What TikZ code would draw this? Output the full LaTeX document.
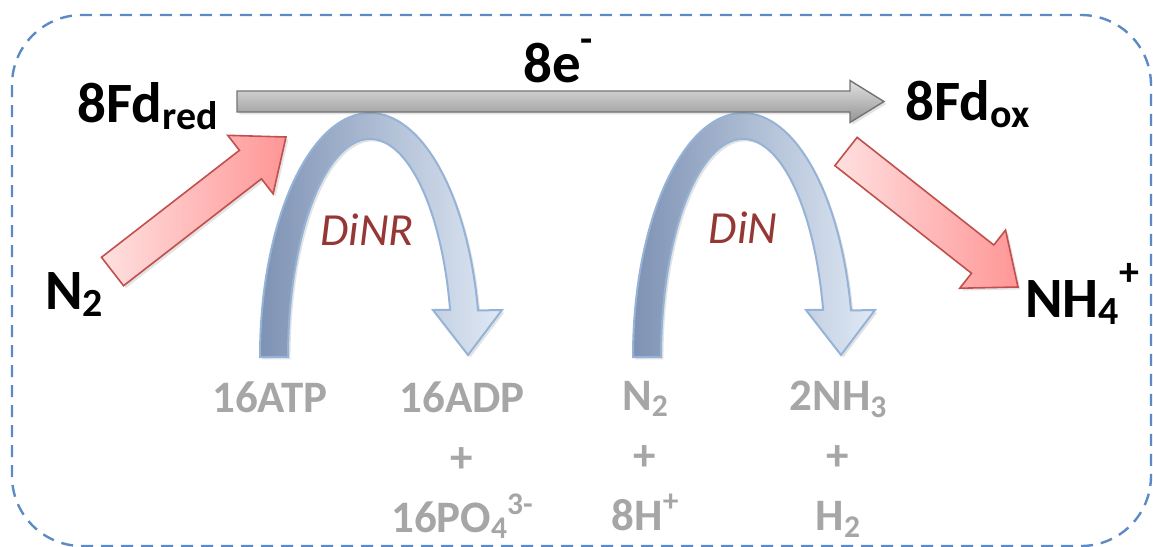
\documentclass[tikz,border=0pt]{standalone}
\usepackage{fontspec}
\setmainfont{Carlito}
\usepackage{graphicx}
\usetikzlibrary{calc,shadows}

\definecolor{boxblue}{RGB}{91,138,198}
\definecolor{arcdark}{RGB}{126,146,180}
\definecolor{arclight}{RGB}{224,233,245}
\definecolor{arcedge}{RGB}{149,179,215}
\definecolor{redlight}{RGB}{255,224,224}
\definecolor{reddark}{RGB}{255,150,150}
\definecolor{rededge}{RGB}{192,80,77}
\definecolor{enzred}{RGB}{149,55,53}
\definecolor{txtgray}{RGB}{166,166,166}

% sub- and superscripts in text
\newcommand{\lo}[1]{\raisebox{-0.14em}{\scalebox{0.7}{#1}}}
\newcommand{\hi}[2][0.55em]{\raisebox{#1}{\scalebox{0.7}{#2}}}

% block arrow: style, tail, tip, shaft half width, head length, head half width
\newcommand{\blockarrow}[6]{%
  \coordinate (ba) at ($(#3)!#5!(#2)$);
  \draw[#1] ($(#2)!#4!90:(#3)$) -- ($(ba)!#4!90:(#3)$) -- ($(ba)!#6!90:(#3)$)
    -- (#3) -- ($(ba)!#6!-90:(#3)$) -- ($(ba)!#4!-90:(#3)$) -- ($(#2)!#4!-90:(#3)$) -- cycle;
}

% bent arrow, centre of the arch at the origin
\newcommand{\hookpath}{%
  (-110,0) arc[start angle=180, end angle=349, x radius=110, y radius=244]
  -- (132,-47) -- (98,-2) -- (63,-47) -- (80.1,-47.2)
  arc[start angle=347.5, end angle=180, x radius=82, y radius=218] -- cycle
}

\tikzset{
  softshadow/.style={drop shadow={shadow xshift=1.2pt, shadow yshift=-1.2pt, opacity=0.22}},
  outerbox/.style={draw=boxblue, line width=1.2pt, dash pattern=on 6pt off 4pt, rounded corners=35pt},
  redarrow/.style={draw=rededge, line width=0.8pt, left color=redlight, right color=reddark, softshadow},
  grayarrow/.style={draw=black!55, line width=0.7pt, top color=black!12, bottom color=black!42, softshadow},
  hookarrow/.style={draw=arcedge, line width=1pt, left color=arcdark, right color=arclight, softshadow},
  bigtext/.style={font=\fontsize{28.5}{30}\selectfont\bfseries, inner sep=0pt},
  enzyme/.style={font=\fontsize{23}{25}\selectfont\itshape, text=enzred, inner sep=0pt},
  species/.style={font=\fontsize{22.5}{30}\selectfont\bfseries, text=txtgray, align=center, inner sep=0pt}
}

\begin{document}
\begin{tikzpicture}[x=0.5pt,y=-0.5pt]
  \useasboundingbox (0,0) rectangle (1153,547);
  \draw[outerbox] (12,15) rectangle (1151,546);

  % red arrows
  \coordinate (inTail) at (112.5,271.5);
  \coordinate (inTip) at (286,137);
  \coordinate (outTail) at (846,151.5);
  \coordinate (outTip) at (1018,287);
  \blockarrow{redarrow}{inTail}{inTip}{9pt}{22.5pt}{18.5pt}
  \blockarrow{redarrow}{outTail}{outTip}{9pt}{22.5pt}{18.5pt}

  % the two bent arrows
  \begin{scope}[shift={(370,357)}]
    \draw[hookarrow] \hookpath;
  \end{scope}
  \begin{scope}[shift={(743,357)}]
    \draw[hookarrow] \hookpath;
  \end{scope}

  % electron arrow
  \coordinate (eTail) at (237,101.5);
  \coordinate (eTip) at (884,101.5);
  \blockarrow{grayarrow}{eTail}{eTip}{5.25pt}{17pt}{10.5pt}

  \node[bigtext, anchor=base west] (electrons) at (523,82) {8e\hi[0.52em]{-}};
  \node[bigtext, anchor=base west] (fdred) at (77,122) {8Fd\lo{red}};
  \node[bigtext, anchor=base west] (fdox) at (905,120) {8Fd\lo{ox}};
  \node[bigtext, anchor=base west] (ntwoL) at (45,309) {N\lo{2}};
  \node[bigtext, anchor=base west] (nhfour) at (1025,317) {NH\lo{4}\hi{+}};

  \node[enzyme, anchor=base] (dinr) at (367,245) {DiNR};
  \node[enzyme, anchor=base] (din) at (743,243) {DiN};

  \node[species, anchor=north] (atp) at (270,381) {16ATP};
  \node[species, anchor=north] (adp) at (462,381) {16ADP\\+\\16PO\lo{4}\hi[0.4em]{3-}};
  \node[species, anchor=north] (ntwo) at (645,381) {N\lo{2}\\+\\8H\hi[0.42em]{+}};
  \node[species, anchor=north] (nhthree) at (838,381) {2NH\lo{3}\\+\\H\lo{2}};
\end{tikzpicture}
\end{document}
